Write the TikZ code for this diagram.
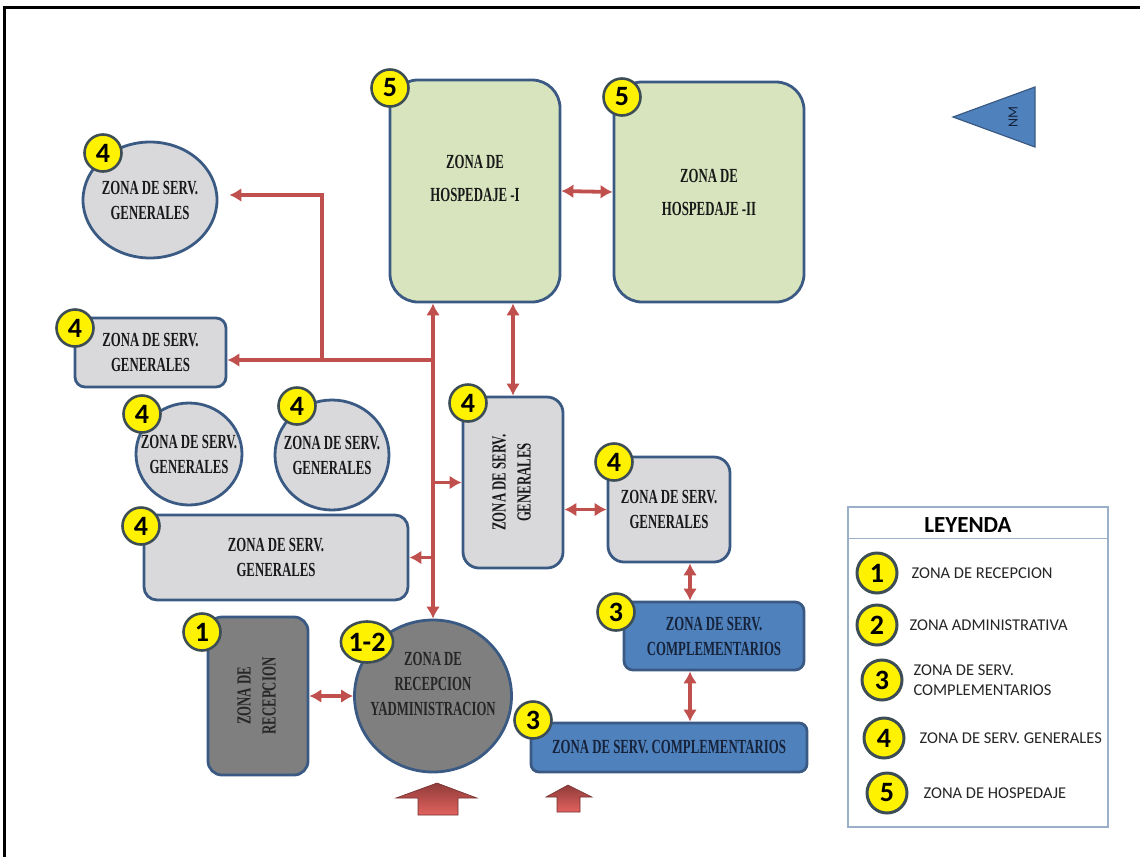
\documentclass[tikz,border=0pt]{standalone}
\usepackage{fontspec}
\usepackage{xcolor}
\usepackage{tikz}
\usetikzlibrary{shapes.geometric, arrows.meta, positioning, calc}
\setmainfont{Carlito}
\newfontfamily\zonefont[FakeStretch=0.64]{Liberation Serif}
\definecolor{zoneblue}{HTML}{3A5A84}
\definecolor{hospgreen}{HTML}{D7E4BD}
\definecolor{servgray}{HTML}{D9D9DC}
\definecolor{recgray}{HTML}{7F7F7F}
\definecolor{compblue}{HTML}{4F81BD}
\definecolor{arrowred}{HTML}{C0504D}
\definecolor{badgeedge}{HTML}{3D4D55}
\definecolor{legline}{HTML}{9AB0C8}
\definecolor{navytext}{HTML}{16233A}
\definecolor{entrylight}{HTML}{E2625E}
\newcommand{\zonetext}{\zonefont\bfseries\fontsize{20}{25}\selectfont}
\newcommand{\vtext}[1]{\rotatebox{90}{\begin{tabular}{@{}c@{}}#1\end{tabular}}}

\begin{document}
\begin{tikzpicture}[
    x=1pt, y=-1pt,
    box/.style={draw=zoneblue, line width=2.8pt, align=center, font=\zonetext, text=black!90, inner sep=0pt},
    hosp/.style={box, fill=hospgreen, rounded corners=28pt},
    sgen/.style={box, fill=servgray, rounded corners=13pt},
    sgenc/.style={box, ellipse, fill=servgray, inner xsep=-14pt, inner ysep=-10pt},
    rec/.style={box, fill=recgray, text=black!85},
    comp/.style={box, fill=compblue, rounded corners=9pt, text=navytext},
    badge/.style={circle, fill=yellow, draw=badgeedge, line width=2.6pt, minimum size=37pt, inner sep=0pt, font=\bfseries\fontsize{28}{28}\selectfont},
    keytxt/.style={anchor=west, align=left, font=\fontsize{16.5}{20}\selectfont, text=black!85},
    arrow/.style={-{Latex[length=12pt,width=14pt]}, line width=3.8pt, arrowred},
    dblarrow/.style={{Latex[length=12pt,width=14pt]}-{Latex[length=12pt,width=14pt]}, line width=3.8pt, arrowred},
    blockarrow/.style={top color=arrowred!75!black, bottom color=entrylight, draw=arrowred!60!black, line width=0.6pt},
]
\useasboundingbox (0,0) rectangle (1140,857);
% frame
\draw[line width=3pt] (4,857) -- (4,7) -- (1140,7);
% Hospedaje zones
\node[hosp, minimum width=170pt, minimum height=222pt] (hospI) at (475,191) {ZONA DE\\[8pt]HOSPEDAJE -I\\[0pt]\mbox{}};
\node[hosp, minimum width=190pt, minimum height=220pt] (hospII) at (709,192) {ZONA DE\\[8pt]HOSPEDAJE -II};
% servicios generales
\node[sgenc, minimum width=134pt, minimum height=116pt] (gsA) at (150,200) {ZONA DE SERV.\\GENERALES};
\node[sgen, rounded corners=10pt, minimum width=151pt, minimum height=69pt] (gsB) at (150.5,352.5) {ZONA DE SERV.\\GENERALES};
\node[sgenc, minimum width=106pt, minimum height=102pt] (gsC) at (189,454) {ZONA DE SERV.\\GENERALES};
\node[sgenc, minimum width=114pt, minimum height=110pt] (gsD) at (332,455) {ZONA DE SERV.\\GENERALES};
\node[sgen, minimum width=264pt, minimum height=85pt] (gsW) at (276,557.5) {ZONA DE SERV.\\GENERALES};
\node[sgen, rounded corners=16pt, minimum width=100pt, minimum height=171pt] (gsV) at (513,482.5) {\vtext{ZONA DE SERV.\\GENERALES}};
\node[sgen, rounded corners=16pt, minimum width=122pt, minimum height=105pt] (gsR) at (669,509.5) {ZONA DE SERV.\\GENERALES};
% servicios complementarios
\node[comp, minimum width=180pt, minimum height=68pt] (comp1) at (714,636) {ZONA DE SERV.\\COMPLEMENTARIOS};
\node[comp, rounded corners=8pt, minimum width=276pt, minimum height=49pt] (comp2) at (669,747.5) {ZONA DE SERV. COMPLEMENTARIOS};
% recepcion y administracion
\node[rec, rounded corners=14pt, minimum width=100pt, minimum height=158pt] (recep) at (258,696) {\vtext{ZONA DE\\RECEPCION}};
\node[rec, ellipse, inner xsep=-16pt, inner ysep=-12pt, minimum width=157pt, minimum height=152pt] (recad) at (433,696) {ZONA DE\\RECEPCION\\YADMINISTRACION\\[0pt]\mbox{}};
% badges
\node[badge] (bhospI) at (390,88) {5};
\node[badge] (bhospII) at (622,97) {5};
\node[badge] (bgsA) at (103,153) {4};
\node[badge] (bgsB) at (75,328) {4};
\node[badge] (bgsC) at (142,414) {4};
\node[badge] (bgsD) at (297,406) {4};
\node[badge] (bgsW) at (141,526) {4};
\node[badge] (bgsV) at (468,403) {4};
\node[badge] (bgsR) at (614,462) {4};
\node[badge] (bcomp1) at (616,612) {3};
\node[badge] (bcomp2) at (533,720) {3};
\node[badge] (brecep) at (202,632) {1};
\node[badge, ellipse, minimum width=52pt, minimum height=41pt] (brecad) at (367,642) {1-2};
% circulation
\coordinate (jn) at (433,360);
\coordinate (elb) at (322,360);
\draw[dblarrow] (recad.north |- hospI.south) -- (recad.north);
\draw[arrow] (jn) -- (jn -| gsB.east);
\draw[arrow] (elb) |- ([xshift=11pt,yshift=5pt]gsA.east);
\draw[arrow] (recad.north |- gsV.west) -- (gsV.west);
\draw[arrow] (recad.north |- gsW.east) -- (gsW.east);
\draw[dblarrow] (hospI.east) -- (hospII.west);
\draw[dblarrow] (gsV.north |- hospI.south) -- (gsV.north);
\draw[dblarrow] (gsR.west -| gsV.east) -- (gsR.west);
\draw[dblarrow] ([xshift=21pt]gsR.south) -- ([xshift=21pt]gsR.south |- comp1.north);
\draw[dblarrow] ([xshift=-24pt]comp1.south) -- ([xshift=-24pt]comp1.south |- comp2.north);
\draw[dblarrow] (recep.east) -- (recad.west);
% entrances
\shade[blockarrow] (437,783) -- (477,798) -- (458,798) -- (458,815) -- (418,815) -- (418,798) -- (396,798) -- cycle;
\shade[blockarrow] (568,785) -- (592,797) -- (580,797) -- (580,812) -- (557,812) -- (557,797) -- (546,797) -- cycle;
% north
\draw[fill=compblue, draw=zoneblue, line width=1.2pt] (953,117) -- (1035,87) -- (1035,147) -- cycle;
\node[rotate=90, font=\fontsize{14}{14}\selectfont, text=navytext] (nm) at (1013,117) {NM};
% legend
\node[draw=legline, line width=1.3pt, fill=white, minimum width=260pt, minimum height=320pt] (ley) at (978,667) {};
\draw[legline, line width=1.3pt] ([yshift=-32pt]ley.north west) -- ([yshift=-32pt]ley.north east);
\node[font=\bfseries\fontsize{23}{23}\selectfont] (leytit) at (968,525) {LEYENDA};
\foreach \n/\cx/\cy/\tx/\txt in {1/877/573/908/ZONA DE RECEPCION, 2/877/625/906/ZONA ADMINISTRATIVA, 3/882/680/910/{ZONA DE SERV.\\COMPLEMENTARIOS}, 4/884/738/916/ZONA DE SERV. GENERALES, 5/887/793/920/ZONA DE HOSPEDAJE} {
  \node[badge, minimum size=40pt, line width=3pt] (key\n) at (\cx,\cy) {\n};
  \node[keytxt] (keytxt\n) at (\tx,\cy) {\txt};
}
\end{tikzpicture}
\end{document}
